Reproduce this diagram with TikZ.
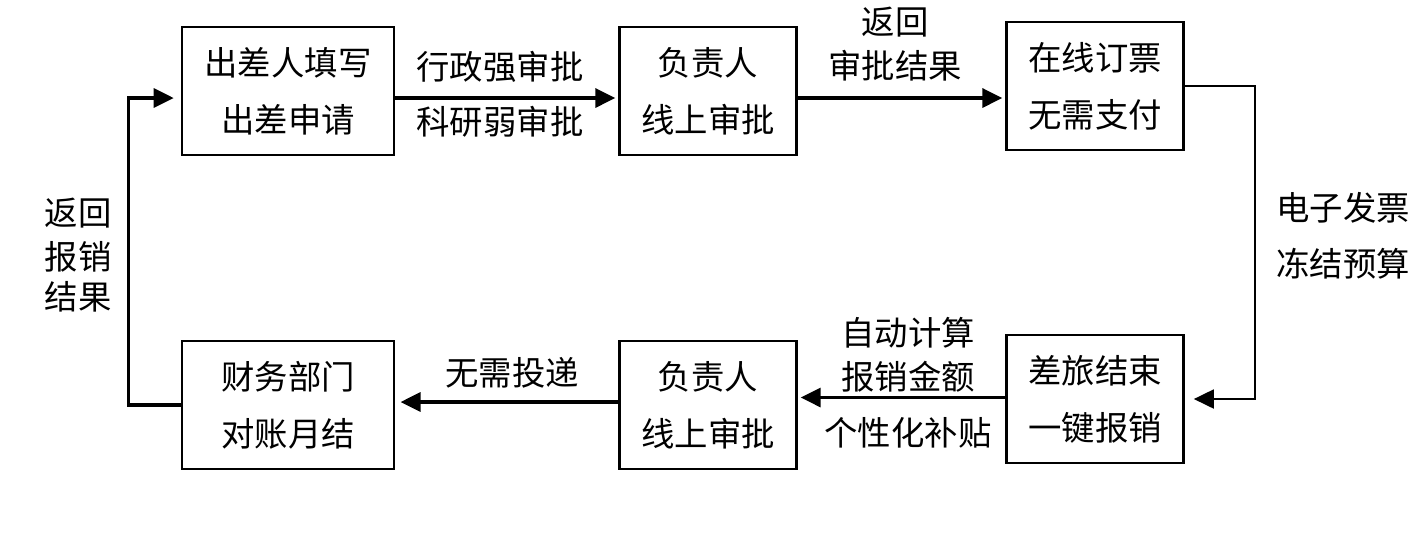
\documentclass[tikz,border=0pt]{standalone}
\usepackage{fontspec}
\setmainfont{Noto Sans CJK SC}
\usetikzlibrary{arrows.meta,positioning}

\begin{document}
\begin{tikzpicture}[x=0.02cm,y=-0.02cm,
    >={Triangle[length=0.4cm,width=0.38cm]},
    every node/.style={font=\fontsize{19}{32.5}\selectfont},
    widebox/.style={draw,line width=1.5pt,align=center,inner sep=0pt,
      minimum width=4.24cm,minimum height=2.56cm},
    narrowbox/.style={widebox,minimum width=3.55cm},
    flow/.style={->,line width=1.9pt,shorten >=1.5pt},
    thinflow/.style={->,line width=1.1pt,shorten >=5pt}]
  \useasboundingbox (0,0) rectangle (1416,539);

  % Upper row of steps.
  \node[widebox] (apply) at (288,91) {出差人填写\\出差申请};
  \node[narrowbox] (check1) at (708,91) {负责人\\线上审批};
  \node[narrowbox] (book) at (1095,86) {在线订票\\无需支付};

  % Lower row of steps.
  \node[narrowbox] (claim) at (1095,399) {差旅结束\\一键报销};
  \node[narrowbox] (check2) at (708,405) {负责人\\线上审批};
  \node[widebox] (finance) at (288,405) {财务部门\\对账月结};

  % Flow between the steps.
  \coordinate (a1) at ([yshift=-0.14cm]apply.east);
  \draw[flow] (a1) -- (a1 -| check1.west);
  \coordinate (b1) at ([yshift=-0.14cm]check1.east);
  \draw[flow] (b1) -- (b1 -| book.west);
  \draw[thinflow] (book.east) -- ++(70,0) |- (claim.east);
  \coordinate (d1) at ([yshift=0.03cm]claim.west);
  \draw[flow] (d1) -- (d1 -| check2.east);
  \coordinate (e1) at ([yshift=0.06cm]check2.west);
  \draw[flow,shorten >=3pt] (e1) -- (e1 -| finance.east);
  \coordinate (f1) at ([yshift=-0.14cm]apply.west);
  \draw[flow,shorten >=4pt] (finance.west) -- ++(-52,0) |- (f1);

  % Labels on the connectors.
  \node (lab1) at (500,67) {行政强审批};
  \node (lab2) at (500,122) {科研弱审批};
  \node (lab3) at (895,22) {返回};
  \node (lab4) at (895,66) {审批结果};
  \node (lab5) at (1343,208) {电子发票};
  \node (lab6) at (1343,264) {冻结预算};
  \node (lab7) at (908,333) {自动计算};
  \node (lab8) at (908,377) {报销金额};
  \node (lab9) at (908,433) {个性化补贴};
  \node (lab10) at (512,373) {无需投递};
  \node (lab11) at (78,213) {返回};
  \node (lab12) at (78,257) {报销};
  \node (lab13) at (78,297) {结果};
\end{tikzpicture}
\end{document}
